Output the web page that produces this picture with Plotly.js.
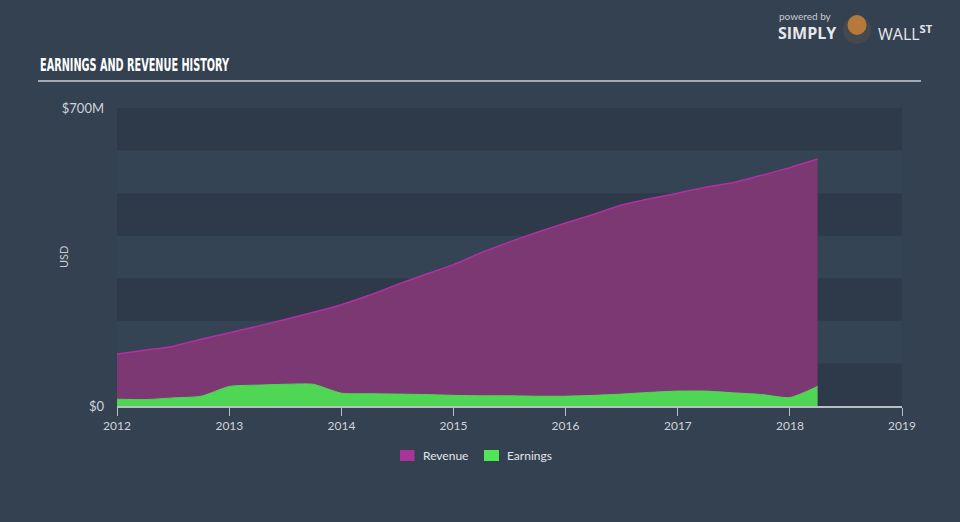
<!DOCTYPE html>
<html>
<head>
<meta charset="utf-8">
<script src="https://cdn.plot.ly/plotly-3.0.1.min.js"></script>
<style>
html,body{margin:0;padding:0;background:#334151;}
#chart{width:960px;height:522px;}
</style>
</head>
<body>
<div id="chart"></div>
<script>
// Quarterly dates
const dates = [
  '2012-01-01','2012-04-01','2012-07-01','2012-10-01',
  '2013-01-01','2013-04-01','2013-07-01','2013-10-01',
  '2014-01-01','2014-04-01','2014-07-01','2014-10-01',
  '2015-01-01','2015-04-01','2015-07-01','2015-10-01',
  '2016-01-01','2016-04-01','2016-07-01','2016-10-01',
  '2017-01-01','2017-04-01','2017-07-01','2017-10-01',
  '2018-01-01','2018-04-01'
];
// Values in $M
const revenue = [
  122,131,140,157,
  172,187,203,220,
  238,260,285,309,
  332,360,385,408,
  430,450,472,487,
  500,514,525,542,
  560,580
];
const earnings = [
  16,15,19,23,
  46,49,51,51,
  30,29,28,27,
  25,24,24,23,
  23,25,28,32,
  35,35,31,27,
  20,46
];
const seriesNames = ['Revenue','Earnings'];
const yTickVals = [0,700];
const yTickText = ['$0','$700M'];
const xTickVals = ['2012-01-01','2013-01-01','2014-01-01','2015-01-01','2016-01-01','2017-01-01','2018-01-01','2019-01-01'];
const xTickText = ['2012','2013','2014','2015','2016','2017','2018','2019'];
const bandEdges = [0,100,200,300,400,500,600,700];

const traces = [
  {
    x: dates, y: revenue, name: seriesNames[0], type: 'scatter', mode: 'lines',
    fill: 'tozeroy', fillcolor: '#7b3873',
    line: {color: '#b3309f', width: 1.5, shape: 'spline', smoothing: 0.6},
    hoverinfo: 'skip', showlegend: false
  },
  {
    x: dates, y: earnings, name: seriesNames[1], type: 'scatter', mode: 'lines',
    fill: 'tozeroy', fillcolor: '#50d655',
    line: {color: '#50d655', width: 1, shape: 'spline', smoothing: 0.6},
    hoverinfo: 'skip', showlegend: false
  }
];

const shapes = [];
for (let i = 0; i < bandEdges.length - 1; i += 2) {
  shapes.push({type:'rect', xref:'paper', yref:'y', x0:0, x1:1, y0:bandEdges[i], y1:bandEdges[i+1],
    fillcolor:'#2e3a4a', line:{width:0}, layer:'below'});
}
// title underline
shapes.push({type:'line', xref:'paper', yref:'paper', x0:-0.1006, x1:1.0242, y0:1.0906, y1:1.0906,
  line:{color:'#a3aab4', width:2}});
// logo badge
shapes.push({type:'circle', xref:'paper', yref:'paper', x0:0.9249, x1:0.9605, y0:1.215, y1:1.309,
  fillcolor:'#45494d', line:{width:0}});
shapes.push({type:'circle', xref:'paper', yref:'paper', x0:0.9306, x1:0.9548, y0:1.245, y1:1.312,
  fillcolor:'#b57a3a', line:{width:0}});
// legend swatches
shapes.push({type:'rect', xref:'paper', yref:'paper', x0:0.3605, x1:0.3790, y0:-0.1477, y1:-0.1846,
  fillcolor:'#a8359a', line:{width:0}});
shapes.push({type:'rect', xref:'paper', yref:'paper', x0:0.4675, x1:0.4866, y0:-0.1477, y1:-0.1846,
  fillcolor:'#50e655', line:{width:0}});

const layout = {
  width: 960, height: 522,
  paper_bgcolor: '#334151',
  plot_bgcolor: '#354455',
  margin: {l:117, r:58, t:108, b:116},
  font: {family: 'Lato, "Open Sans", sans-serif', color: '#d0d4da', size: 12},
  showlegend: false,
  xaxis: {
    type:'date', range:['2012-01-01','2019-01-01'],
    tickvals: xTickVals, ticktext: xTickText,
    showgrid:false, zeroline:false,
    showline:true, linecolor:'#b8bec6', linewidth:1.5,
    ticks:'outside', ticklen:8, tickcolor:'#b8bec6', tickwidth:1,
    tickfont:{size:12, color:'#d0d4da'}, fixedrange:true
  },
  yaxis: {
    range:[0,700], tickvals:yTickVals, ticktext:yTickText,
    showgrid:false, zeroline:false, showline:false, ticks:'',
    ticklabelstandoff: 12,
    tickfont:{size:13, color:'#d0d4da'},
    fixedrange:true
  },
  shapes: shapes,
  annotations: [
    {text:'EARNINGS AND REVENUE HISTORY', xref:'paper', yref:'paper', x:-0.1006, y:1.105,
     xanchor:'left', yanchor:'bottom', showarrow:false,
     font:{family:'"DejaVu Sans Condensed", "Liberation Sans Narrow", "Roboto", sans-serif', size:17, color:'#ffffff', weight:700}},
    {text:'USD', xref:'paper', yref:'paper', x:-0.0688, y:0.5, xanchor:'center', yanchor:'middle',
     textangle:-90, showarrow:false, font:{size:11, color:'#c8ccd2'}},
    {text:seriesNames[0], xref:'paper', yref:'paper', x:0.3873, y:-0.1661, xanchor:'left', yanchor:'middle',
     showarrow:false, font:{size:12, color:'#e2e5e9'}},
    {text:seriesNames[1], xref:'paper', yref:'paper', x:0.4943, y:-0.1661, xanchor:'left', yanchor:'middle',
     showarrow:false, font:{size:12, color:'#e2e5e9'}},
    {text:'powered by', xref:'paper', yref:'paper', x:0.8408, y:1.31, xanchor:'left', yanchor:'middle',
     showarrow:false, font:{size:10, color:'#c8ccd2'}},
    {text:'<b>SIMPLY</b>', xref:'paper', yref:'paper', x:0.8395, y:1.252, xanchor:'left', yanchor:'middle',
     showarrow:false, font:{family:'"Open Sans", sans-serif', size:16, color:'#e6e8eb'}},
    {text:'WALL<b><sup>ST</sup></b>', xref:'paper', yref:'paper', x:0.9669, y:1.252, xanchor:'left', yanchor:'middle',
     showarrow:false, font:{family:'"Open Sans", sans-serif', size:16, color:'#e6e8eb'}}
  ]
};

Plotly.newPlot('chart', traces, layout, {displayModeBar:false, staticPlot:true}).then(function(gd){
  // condense the title to match the narrow headline face
  const anns = gd.querySelectorAll('.annotation-text');
  anns.forEach(function(t){
    if (t.textContent === 'EARNINGS AND REVENUE HISTORY') {
      const bb = t.getBBox();
      t.setAttribute('text-anchor', 'start');
      t.setAttribute('x', bb.x);
      t.setAttribute('textLength', '189');
      t.setAttribute('lengthAdjust', 'spacingAndGlyphs');
    }
  });
});
</script>
</body>
</html>
